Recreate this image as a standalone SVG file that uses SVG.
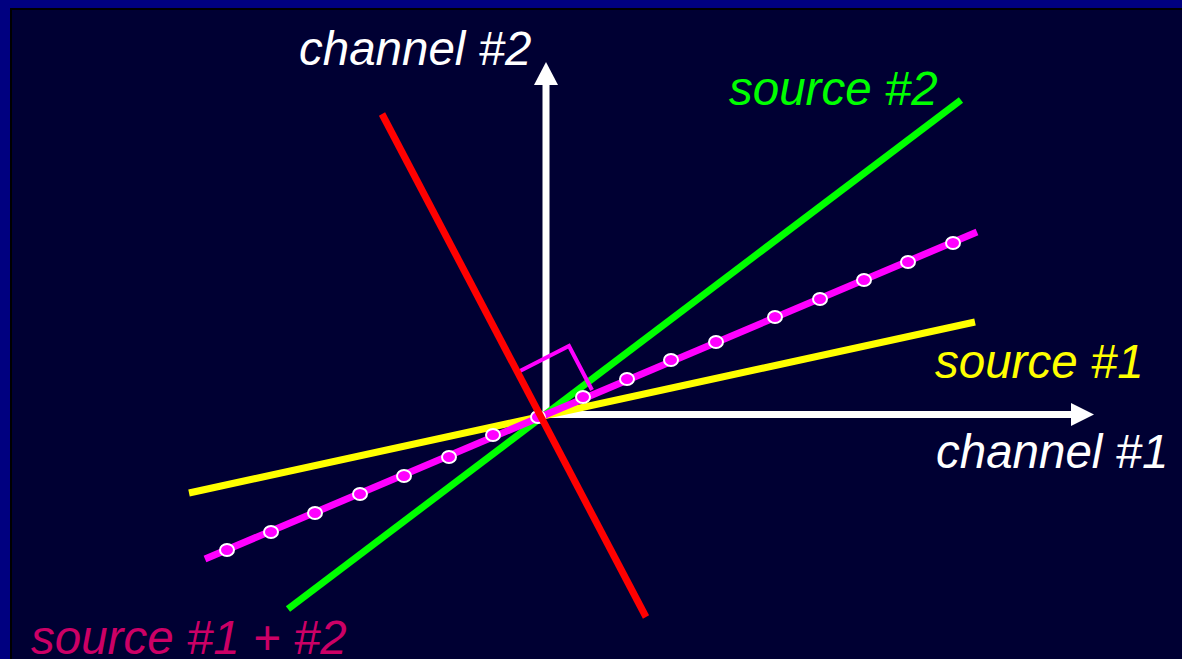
<svg xmlns="http://www.w3.org/2000/svg" width="1182" height="659" viewBox="0 0 1182 659">
  <style>
    .lbl { font-family: "Liberation Sans", Arial, sans-serif; font-style: italic; font-size: 47.5px; }
    .ln { fill: none; stroke-width: 7; stroke-linecap: butt; }
    .dot { fill: #ff00ff; stroke: #ffffff; stroke-width: 2; }
  </style>
  <g id="background">
    <rect x="0" y="0" width="1182" height="659" fill="#000080"/>
    <rect x="10" y="8" width="1172" height="651" fill="#000033"/>
    <path d="M11 659 V9 H1182" fill="none" stroke="#000000" stroke-width="2"/>
  </g>
  <g id="axes">
    <line x1="546" y1="418" x2="546" y2="84" stroke="#ffffff" stroke-width="7"/>
    <polygon points="546,62 534,85 558,85" fill="#ffffff"/>
    <line x1="543" y1="414.5" x2="1072" y2="414.5" stroke="#ffffff" stroke-width="7"/>
    <polygon points="1094,414.5 1071,403 1071,426" fill="#ffffff"/>
  </g>
  <g id="connectors">
    <line id="source1-line" class="ln" x1="189" y1="493" x2="975" y2="322" stroke="#ffff00"/>
    <line id="source2-line" class="ln" x1="288" y1="609" x2="961" y2="100" stroke="#00ff00"/>
    <line id="mix-line" class="ln" x1="205" y1="559" x2="977" y2="232" stroke="#ff00ff"/>
    <g id="samples">
      <ellipse class="dot" cx="227" cy="550" rx="7" ry="6"/>
      <ellipse class="dot" cx="271" cy="532" rx="7" ry="6"/>
      <ellipse class="dot" cx="315" cy="513" rx="7" ry="6"/>
      <ellipse class="dot" cx="360" cy="494" rx="7" ry="6"/>
      <ellipse class="dot" cx="404" cy="476" rx="7" ry="6"/>
      <ellipse class="dot" cx="449" cy="457" rx="7" ry="6"/>
      <ellipse class="dot" cx="493" cy="435" rx="7" ry="6"/>
      <ellipse class="dot" cx="538" cy="417" rx="7" ry="6"/>
      <ellipse class="dot" cx="583" cy="397" rx="7" ry="6"/>
      <ellipse class="dot" cx="627" cy="379" rx="7" ry="6"/>
      <ellipse class="dot" cx="671" cy="360" rx="7" ry="6"/>
      <ellipse class="dot" cx="716" cy="342" rx="7" ry="6"/>
      <ellipse class="dot" cx="775" cy="317" rx="7" ry="6"/>
      <ellipse class="dot" cx="820" cy="299" rx="7" ry="6"/>
      <ellipse class="dot" cx="864" cy="280" rx="7" ry="6"/>
      <ellipse class="dot" cx="908" cy="262" rx="7" ry="6"/>
      <ellipse class="dot" cx="953" cy="243" rx="7" ry="6"/>
    </g>
    <polyline id="right-angle" points="518,372 569,346 592,390" fill="none" stroke="#ff00ff" stroke-width="4"/>
    <line id="red-line" class="ln" x1="382" y1="114" x2="646" y2="617" stroke="#ff0000"/>
  </g>
  <g id="label-channel2"><text class="lbl" x="299" y="65" fill="#ffffff">channel #2</text></g>
  <g id="label-source2"><text class="lbl" x="729" y="105" fill="#00ff00">source #2</text></g>
  <g id="label-source1"><text class="lbl" x="935" y="378" fill="#ffff00">source #1</text></g>
  <g id="label-channel1"><text class="lbl" x="936" y="468" fill="#ffffff">channel #1</text></g>
  <g id="label-mix"><text class="lbl" x="31" y="654" fill="#cc0066">source #1 + #2</text></g>
</svg>
